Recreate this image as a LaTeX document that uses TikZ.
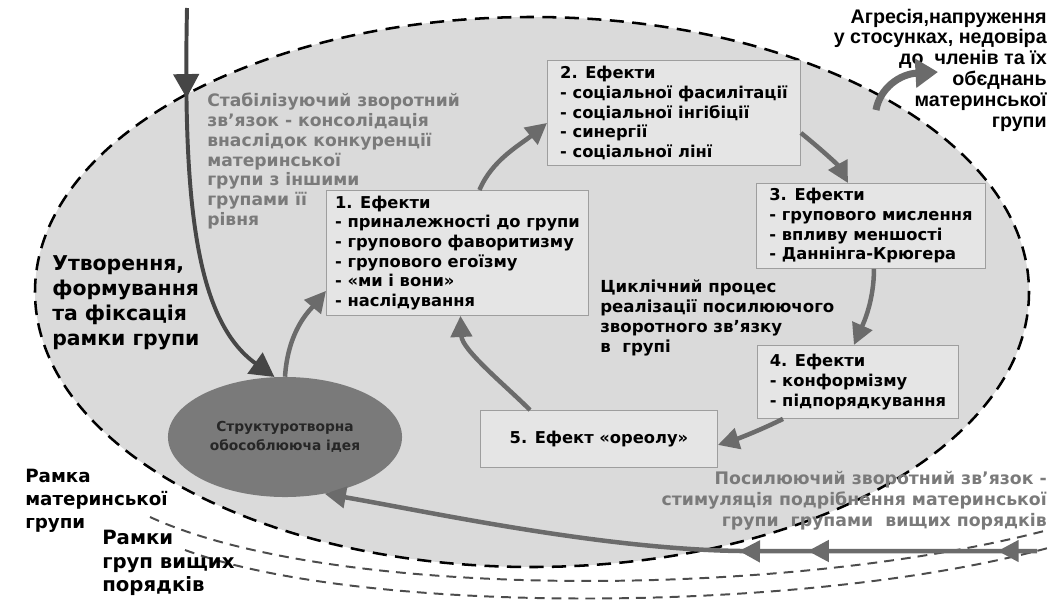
\documentclass[tikz,border=0pt]{standalone}
\usepackage{fontspec}
\setmainfont{DejaVu Sans}
\newfontfamily\condbf{Liberation Sans}
\usepackage{tikz}
\usetikzlibrary{positioning,arrows.meta,shapes.geometric,calc,decorations.markings}
\definecolor{field}{HTML}{DADADA}
\definecolor{card}{HTML}{E5E5E5}
\definecolor{edge}{HTML}{9E9E9E}
\definecolor{arrowc}{HTML}{6B6B6B}
\definecolor{dark}{HTML}{464646}
\definecolor{core}{HTML}{7A7A7A}
\definecolor{muted}{HTML}{7A7A7A}

\begin{document}
\begin{tikzpicture}[x=0.025cm, y=-0.025cm,
  groupframe/.style={draw=black, line width=1.8pt, dash pattern=on 10pt off 6pt},
  higherframe/.style={draw=black!70, line width=1.4pt, dash pattern=on 7pt off 5pt},
  effect/.style={draw=edge, line width=0.6pt, fill=card, anchor=north west, align=left,
                 inner sep=2pt, font=\fontsize{11.6}{14}\selectfont\bfseries},
  txt/.style={align=left, inner sep=0pt, font=\fontsize{11.8}{14.2}\selectfont\bfseries},
  loopline/.style={color=arrowc, line width=3.2pt, -{Triangle[length=15pt,width=15pt]}}]
  \useasboundingbox (0,0) rectangle (1060,604);
  % frames of the groups
  \fill[field] (532,292) ellipse [x radius=497, y radius=275];
  \draw[higherframe] (150,517) .. controls (330,600) and (780,600) .. (1048,530);
  \draw[higherframe] (185,550) .. controls (360,615) and (800,615) .. (1048,548);
  \draw[groupframe] (532,292) ellipse [x radius=497, y radius=275];

  % effects
  \node[effect, minimum width=6.55cm, minimum height=3.125cm] (b1) at (326,190)
    {1. Ефекти\\- приналежності до групи\\- групового фаворитизму\\- групового егоїзму\\- «ми і вони»\\- наслідування};
  \node[effect, minimum width=6.325cm, minimum height=2.625cm] (b2) at (547,60)
    {2. Ефекти\\- соціальної фасилітації\\- соціальної інгібіції\\- синергії\\- соціальної лінї};
  \node[effect, minimum width=5.725cm, minimum height=2.125cm] (b3) at (756,183)
    {3. Ефекти\\- групового мислення\\- впливу меншості\\- Даннінга-Крюгера};
  \node[effect, minimum width=5.025cm, minimum height=1.825cm] (b4) at (757,345)
    {4. Ефекти\\- конформізму\\- підпорядкування};
  \node[effect, minimum width=5.925cm, minimum height=1.425cm, align=center] (b5) at (480,410)
    {5. Ефект «ореолу»};
  \node[ellipse, fill=core, minimum width=5.85cm, minimum height=3cm, align=center, text=black!85,
        font=\fontsize{9.8}{13.5}\selectfont\bfseries] (idea) at (285,437)
    {Структуротворна\\обособлююча ідея};

  % texts
  \node[txt, text=muted, anchor=west, font=\fontsize{12.2}{14.2}\selectfont\bfseries] (stab) at (207,161)
    {Стабілізуючий зворотний\\зв'язок - консолідація\\внаслідок конкуренції\\материнської\\групи з іншими\\групами її\\рівня};
  \node[txt, anchor=west, font=\fontsize{14.5}{17.8}\selectfont\bfseries] (form) at (52,303)
    {Утворення,\\формування\\та фіксація\\рамки групи};
  \node[txt, anchor=west] (cyc) at (600,318)
    {Циклічний процес\\реалізації посилюючого\\зворотного зв'язку\\в~ групі};
  \node[txt, anchor=east, align=right, font=\condbf\fontsize{14}{14.8}\selectfont\bfseries] (agr) at (1047,70)
    {Агресія,напруження\\у стосунках, недовіра\\до~ членів та їх\\обєднань\\материнської\\групи};
  \node[txt, text=muted, anchor=east, align=right, font=\fontsize{12.3}{15}\selectfont\bfseries] (pos) at (1047,501)
    {Посилюючий зворотний зв'язок -\\стимуляція подрібнення материнської\\групи~ групами~ вищих порядків};
  \node[txt, anchor=west, font=\fontsize{13}{16.4}\selectfont\bfseries] (ramka) at (25,501)
    {Рамка\\материнської\\групи};
  \node[txt, anchor=west, font=\fontsize{14}{16.7}\selectfont\bfseries] (ramky) at (102,563)
    {Рамки\\груп вищих\\порядків};

  \coordinate (fin) at (187,8);
  \coordinate (fbin) at (1037,551);
  \coordinate (agrfrom) at (876,110);
  \coordinate (agrto) at (938,72);

  % formation of the frame
  \draw[color=dark, line width=2.8pt, -{Triangle[length=17pt,width=18pt]}, postaction={decorate},
        decoration={markings, mark=at position 64pt with {\arrow{Triangle[length=17pt,width=18pt]}}}]
    (fin) .. controls (183,200) and (195,320) .. (idea.100);

  % cycle of the reinforcing feedback
  \draw[loopline] (idea.north) .. controls (288,330) and (310,310) .. ($(b1.south west)+(0,-25)$);
  \draw[loopline] ($(b1.north)+(22,0)$) .. controls (492,160) and (520,145) .. ($(b2.west)+(0,10)$);
  \draw[loopline] ($(b2.east)+(0,20)$) .. controls (822,150) and (838,165) .. ($(b3.north)+(-23,0)$);
  \draw[loopline] ($(b3.south)+(3,0)$) .. controls (874,300) and (864,322) .. ($(b4.north)+(-4,0)$);
  \draw[loopline] ($(b4.south west)+(26,0)$) .. controls (765,428) and (740,438) .. ($(b5.east)+(0,6)$);
  \draw[loopline] ($(b5.north west)+(50,0)$) .. controls (505,385) and (462,350) .. ($(b1.south)+(3,0)$);

  % feedback from the higher-order groups
  \draw[loopline, postaction={decorate},
        decoration={markings,
          mark=at position 28pt with {\arrow{Triangle[length=15pt,width=15pt]}},
          mark=at position 163pt with {\arrow{Triangle[length=15pt,width=15pt]}},
          mark=at position 212pt with {\arrow{Triangle[length=15pt,width=15pt]}}}]
    (fbin) -- (740,551) .. controls (600,549) and (430,512) .. (idea.-55);

  % aggression
  \draw[color=arrowc, line width=5pt, -{Triangle[length=16pt,width=20pt]}]
    (agrfrom) .. controls (880,88) and (900,74) .. (agrto);
\end{tikzpicture}
\end{document}
